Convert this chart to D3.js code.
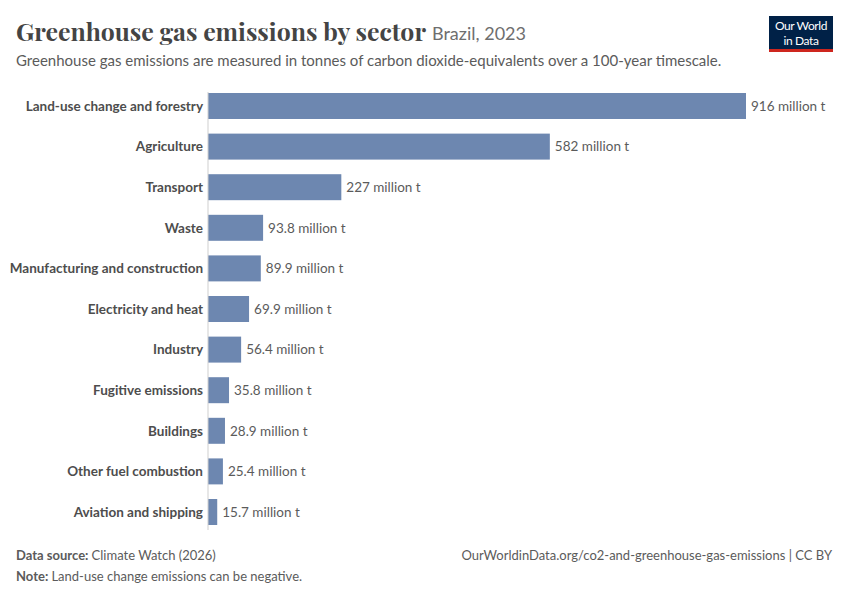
<!DOCTYPE html>
<html>
<head>
<meta charset="utf-8">
<script src="https://cdn.jsdelivr.net/npm/d3@7"></script>
<style>
  body { margin: 0; background: #fff; }
  text { font-family: Lato, "Noto Sans", sans-serif; }
</style>
</head>
<body>
<svg id="chart" width="850" height="600"></svg>
<script>
const sectors = ["Land-use change and forestry", "Agriculture", "Transport", "Waste",
  "Manufacturing and construction", "Electricity and heat", "Industry", "Fugitive emissions",
  "Buildings", "Other fuel combustion", "Aviation and shipping"];
const emissions = [916, 582, 227, 93.8, 89.9, 69.9, 56.4, 35.8, 28.9, 25.4, 15.7];
const valueLabels = ["916 million t", "582 million t", "227 million t", "93.8 million t",
  "89.9 million t", "69.9 million t", "56.4 million t", "35.8 million t", "28.9 million t",
  "25.4 million t", "15.7 million t"];

const svg = d3.select("#chart");
const rows = sectors.map((s, i) => ({ name: s, value: emissions[i], label: valueLabels[i] }));

const x = d3.scaleLinear().domain([0, 916]).range([208, 746]);
const y = d3.scaleBand().domain(sectors).range([85.7, 532.3]).paddingInner(0.36).paddingOuter(0.18);

// header
svg.append("text").attr("x", 16).attr("y", 41)
  .style("font-family", "'Playfair Display', 'DejaVu Serif', serif")
  .style("font-size", "24px").style("font-weight", "bold").attr("fill", "#444")
  .attr("textLength", 410).attr("lengthAdjust", "spacingAndGlyphs")
  .text("Greenhouse gas emissions by sector");
svg.append("text").attr("x", 432).attr("y", 40)
  .style("font-size", "18px").attr("fill", "#6e6e6e").text("Brazil, 2023");
svg.append("text").attr("x", 16).attr("y", 66)
  .style("font-size", "15px").attr("fill", "#5b5b5b")
  .text("Greenhouse gas emissions are measured in tonnes of carbon dioxide-equivalents over a 100-year timescale.");

// logo
const logo = svg.append("g").attr("transform", "translate(769,16)");
logo.append("rect").attr("width", 64).attr("height", 36).attr("fill", "#002147");
logo.append("rect").attr("y", 33).attr("width", 64).attr("height", 3).attr("fill", "#ce261e");
logo.append("text").attr("x", 32).attr("y", 14).attr("text-anchor", "middle")
  .style("font-size", "12px").attr("fill", "#fff").attr("letter-spacing", "-0.4").text("Our World");
logo.append("text").attr("x", 32).attr("y", 28.5).attr("text-anchor", "middle")
  .style("font-size", "12px").attr("fill", "#fff").attr("letter-spacing", "-0.4").text("in Data");

// bars
svg.append("g").selectAll("rect").data(rows).enter().append("rect")
  .attr("x", x(0))
  .attr("y", d => y(d.name))
  .attr("width", d => x(d.value) - x(0))
  .attr("height", y.bandwidth())
  .attr("fill", "#6d87b0");

// axis line
svg.append("line").attr("x1", x(0)).attr("x2", x(0)).attr("y1", 92).attr("y2", 530)
  .attr("stroke", "#cfcfcf").attr("stroke-width", 1);

// category labels
svg.append("g").selectAll("text").data(rows).enter().append("text")
  .attr("x", x(0) - 5)
  .attr("y", d => y(d.name) + y.bandwidth() / 2)
  .attr("dy", "0.35em").attr("text-anchor", "end")
  .style("font-size", "13.5px").style("font-weight", "bold").attr("fill", "#4d4d4d")
  .text(d => d.name);

// value labels
svg.append("g").selectAll("text").data(rows).enter().append("text")
  .attr("x", d => x(d.value) + 5)
  .attr("y", d => y(d.name) + y.bandwidth() / 2)
  .attr("dy", "0.35em")
  .style("font-size", "13.5px").attr("fill", "#5b5b5b")
  .text(d => d.label);

// footer
const src = svg.append("text").attr("x", 16).attr("y", 560).style("font-size", "13px").attr("fill", "#5b5b5b");
src.append("tspan").style("font-weight", "bold").text("Data source: ");
src.append("tspan").text("Climate Watch (2026)");
svg.append("text").attr("x", 832).attr("y", 560).attr("text-anchor", "end")
  .style("font-size", "13px").attr("fill", "#5b5b5b")
  .text("OurWorldinData.org/co2-and-greenhouse-gas-emissions | CC BY");
const note = svg.append("text").attr("x", 16).attr("y", 581).style("font-size", "13px").attr("fill", "#5b5b5b");
note.append("tspan").style("font-weight", "bold").text("Note: ");
note.append("tspan").text("Land-use change emissions can be negative.");
</script>
</body>
</html>
